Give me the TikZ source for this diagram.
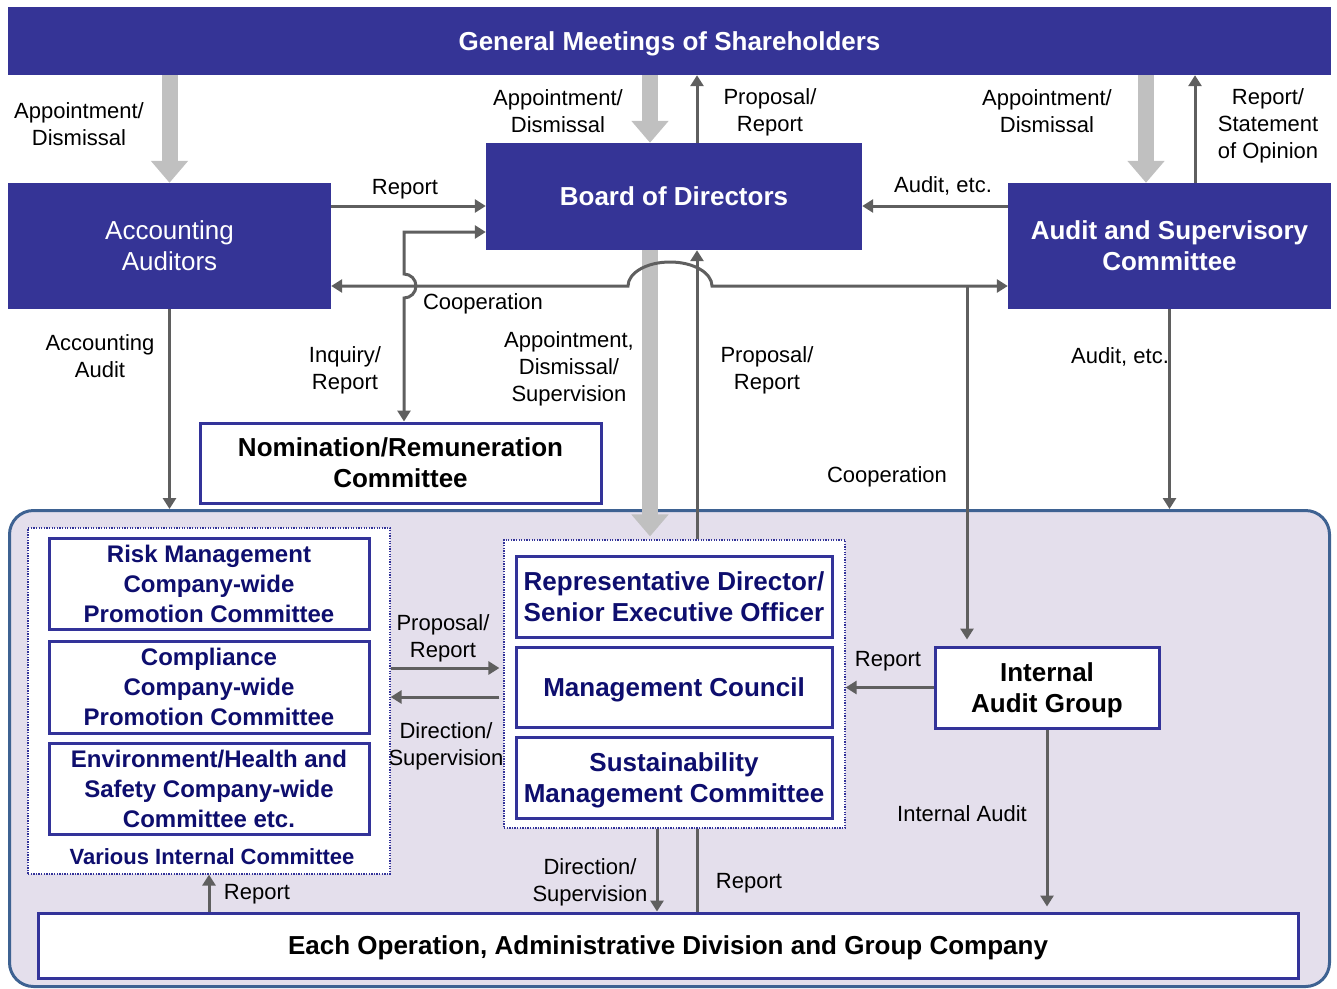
\documentclass[tikz,border=0pt]{standalone}
\usepackage{fontspec}
\setmainfont{Liberation Sans}
\usetikzlibrary{arrows.meta,calc}
\definecolor{navy}{RGB}{53,52,150}
\definecolor{bdr}{RGB}{51,51,153}
\definecolor{ntext}{RGB}{14,14,110}
\definecolor{agray}{RGB}{95,95,95}
\definecolor{lgray}{RGB}{192,192,192}
\definecolor{lav}{RGB}{228,223,236}
\definecolor{steel}{RGB}{62,98,146}
\newcommand\fL{\fontsize{22}{27}\selectfont}
\newcommand\fB{\fontsize{26}{31}\selectfont\bfseries}
\newcommand\fR{\fontsize{26}{31}\selectfont}
\newcommand\fC{\fontsize{24}{30}\selectfont\bfseries}
\begin{document}
\begin{tikzpicture}[x=1pt,y=-1pt,
  bluebox/.style={fill=navy, draw=none, text=white, font=\fB, align=center, inner sep=0pt, text depth=0pt},
  wbox/.style={fill=white, draw=bdr, line width=3pt, align=center, inner sep=0pt, font=\fB, text depth=0pt},
  dotbox/.style={fill=white, draw=bdr, line width=1.2pt, dash pattern=on 1.3pt off 1.3pt, inner sep=0pt},
  lbl/.style={font=\fL, align=center, inner sep=0pt},
  conn/.style={draw=agray, line width=3pt, -{Triangle[width=13pt,length=11pt]}},
  plain/.style={draw=agray, line width=3pt},
  big/.style={draw=lgray, line width=16pt, -{Triangle[width=36pt,length=22pt]}}]
\useasboundingbox (0,0) rectangle (1337,988);
% helper coordinates
\coordinate (x404) at (404,0);
\coordinate (x650) at (650,0);
\coordinate (x657) at (657,0);
\coordinate (x697) at (697,0);
\coordinate (x967) at (967,0);
\coordinate (x1146) at (1146,0);
\coordinate (x1195) at (1195,0);
\coordinate (y206) at (0,206);
\coordinate (y232) at (0,232);
\coordinate (y286) at (0,286);
\coordinate (y668) at (0,668);
\coordinate (y697) at (0,697);
% container
\node[fill=lav, draw=steel, line width=3pt, rounded corners=24pt, minimum width=1320pt, minimum height=476pt, inner sep=0pt] (cont) at (669.5,748.5) {};
% top nodes
\node[bluebox, minimum width=1323pt, minimum height=68pt] (gm) at (669.5,41) {General Meetings of Shareholders};
\node[bluebox, font=\fR, minimum width=323pt, minimum height=126pt] (acc) at (169.5,246) {Accounting\\Auditors};
\node[bluebox, minimum width=376pt, minimum height=107pt] (board) at (674,196.5) {Board of Directors};
\node[bluebox, minimum width=323pt, minimum height=126pt] (asc) at (1169.5,246) {Audit and Supervisory\\Committee};
\node[wbox, minimum width=401pt, minimum height=80pt] (nom) at (400.5,463) {Nomination/Remuneration\\Committee};
% inner boxes
\node[dotbox, minimum width=362pt, minimum height=346pt] (vic) at (209,701) {};
\node[wbox, font=\fC, text=ntext, minimum width=320pt, minimum height=91pt] (risk) at (209,583.5) {Risk Management\\Company-wide\\Promotion Committee};
\node[wbox, font=\fC, text=ntext, minimum width=320pt, minimum height=92pt] (comp) at (209,687) {Compliance\\Company-wide\\Promotion Committee};
\node[wbox, font=\fC, text=ntext, minimum width=320pt, minimum height=91pt] (env) at (209,788.5) {Environment/Health and\\Safety Company-wide\\Committee etc.};
\node[lbl, font=\fontsize{22}{27}\selectfont\bfseries, text=ntext] (vicl) at (212,857) {Various Internal Committee};
\node[dotbox, minimum width=341pt, minimum height=288pt] (mid) at (674.5,684) {};
\node[wbox, text=ntext, minimum width=316pt, minimum height=81pt] (rep) at (674,596.5) {Representative Director/\\Senior Executive Officer};
\node[wbox, text=ntext, minimum width=316pt, minimum height=80pt] (mc) at (674,687) {Management Council};
\node[wbox, text=ntext, minimum width=316pt, minimum height=81pt] (smc) at (674,777.5) {Sustainability\\Management Committee};
\node[wbox, minimum width=224pt, minimum height=81pt] (iag) at (1047,687.5) {Internal\\Audit Group};
\node[wbox, minimum width=1260pt, minimum height=65pt] (eo) at (668,945.5) {Each Operation, Administrative Division and Group Company};
% big gray arrows
\draw[big] (acc.north |- gm.south) -- (acc.north);
\draw[big] (x650 |- gm.south) -- (x650 |- board.north);
\draw[big] (x1146 |- gm.south) -- (x1146 |- asc.north);
\draw[big] (x650 |- board.south) -- ($(x650 |- mid.north)+(0,-3)$);
% dark connectors
\draw[conn] (x697 |- board.north) -- (x697 |- gm.south);
\draw[conn] (x1195 |- asc.north) -- (x1195 |- gm.south);
\draw[conn] (acc.east |- y206) -- (board.west |- y206);
\draw[conn] (asc.west |- y206) -- (board.east |- y206);
\draw[conn, {Triangle[width=13pt,length=11pt]}-{Triangle[width=13pt,length=11pt]}] (board.west |- y232) -- (x404 |- y232) -- (404,274) arc[start angle=-90, end angle=90, radius=12] -- (x404 |- nom.north);
\draw[conn] (x697 |- mid.north) -- (x697 |- board.south);
\draw[conn, {Triangle[width=13pt,length=11pt]}-{Triangle[width=13pt,length=11pt]}] (acc.east |- y286) -- (628,286) arc[start angle=180, end angle=360, x radius=42, y radius=24] -- (asc.west |- y286);
\draw[conn, shorten >=6pt] (x967 |- y286) -- (x967 |- iag.north);
\draw[conn] (acc.south) -- (acc.south |- cont.north);
\draw[conn] (asc.south) -- (asc.south |- cont.north);
\draw[conn, shorten >=4pt] (vic.east |- y668) -- (mid.west |- y668);
\draw[conn, shorten <=4pt] (mid.west |- y697) -- (vic.east |- y697);
\draw[conn] (iag.west) -- (mid.east |- iag.west);
\draw[conn, shorten >=5pt] (iag.south) -- (iag.south |- eo.north);
\draw[conn] (x657 |- mid.south) -- (x657 |- eo.north);
\draw[plain] (x697 |- eo.north) -- (x697 |- mid.south);
\draw[conn] (vic.south |- eo.north) -- (vic.south);
% labels
\node[lbl] (l1) at (79,124.5) {Appointment/\\Dismissal};
\node[lbl] (l2) at (558,111.5) {Appointment/\\Dismissal};
\node[lbl] (l3) at (770,112) {Proposal/\\Report};
\node[lbl] (l4) at (1047,111.5) {Appointment/\\Dismissal};
\node[lbl] (l5) at (1268,126) {Report/\\Statement\\of Opinion};
\node[lbl] (l6) at (405,189) {Report};
\node[lbl] (l7) at (943,186) {Audit, etc.};
\node[lbl] (l8) at (483,304) {Cooperation};
\node[lbl] (l9) at (100,356) {Accounting\\Audit};
\node[lbl] (l10) at (345,370) {Inquiry/\\Report};
\node[lbl] (l11) at (569,368.5) {Appointment,\\Dismissal/\\Supervision};
\node[lbl] (l12) at (767,370) {Proposal/\\Report};
\node[lbl] (l13) at (1120,357) {Audit, etc.};
\node[lbl] (l14) at (887,477) {Cooperation};
\node[lbl] (l15) at (443,638) {Proposal/\\Report};
\node[lbl] (l16) at (446,746) {Direction/\\Supervision};
\node[lbl] (l17) at (888,661) {Report};
\node[lbl] (l18) at (962,814) {Internal Audit};
\node[lbl] (l19) at (590,882) {Direction/\\Supervision};
\node[lbl] (l20) at (749,883) {Report};
\node[lbl] (l21) at (257,894) {Report};
\end{tikzpicture}
\end{document}
